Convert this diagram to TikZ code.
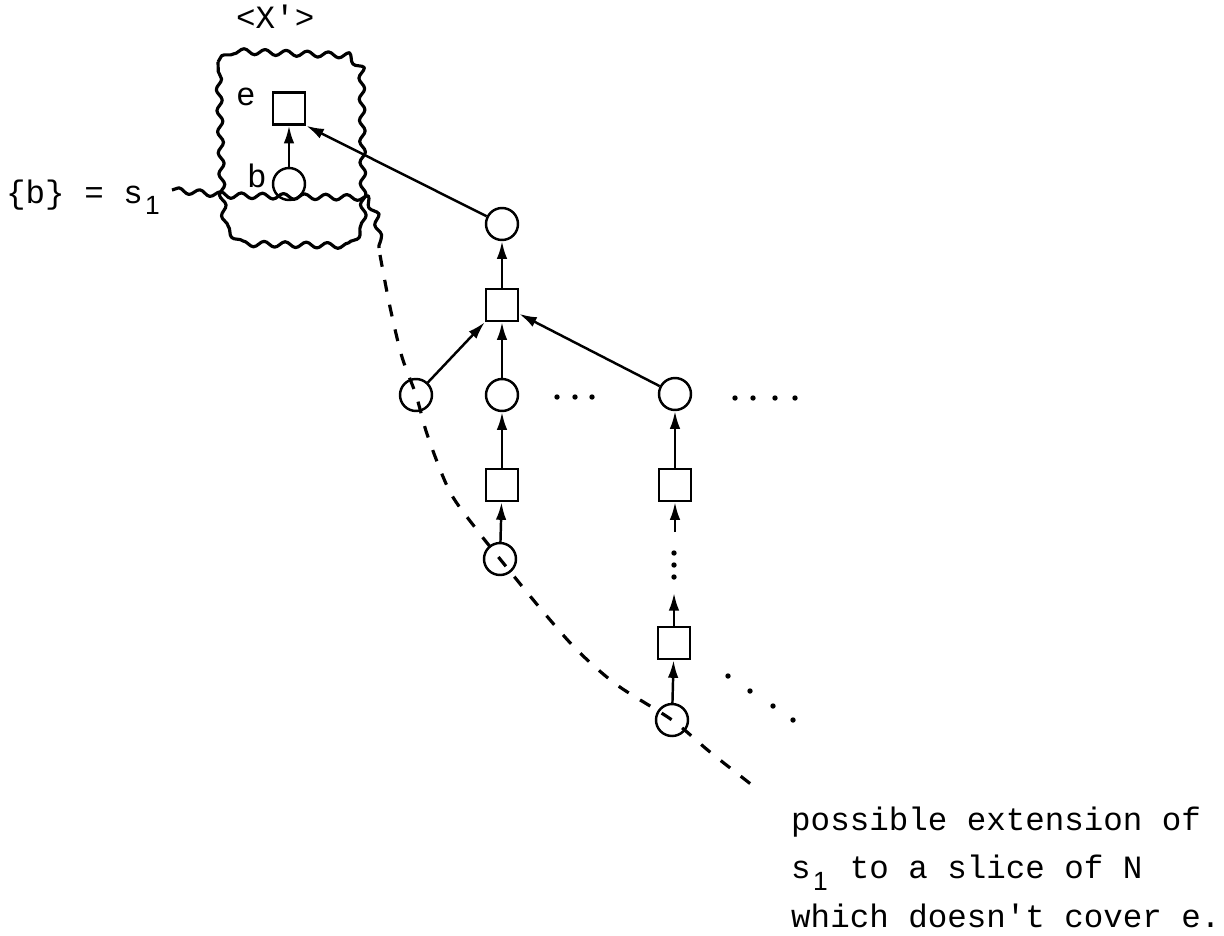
\documentclass[tikz,border=0pt]{standalone}
\usepackage{fontspec}
\setmonofont{Liberation Mono}
\newfontfamily\idxfont{Liberation Sans}
\usetikzlibrary{arrows.meta,decorations.pathmorphing}
% lowered index digit, one typewriter cell wide
\newcommand{\idx}[1]{\makebox[0.6em]{\raisebox{-3.4pt}{\idxfont\fontsize{7.5}{7.5}\selectfont #1}}}

\begin{document}
\begin{tikzpicture}[
  font=\ttfamily\fontsize{9.25}{13.75}\selectfont,
  line width=0.7pt,
  place/.style={circle,draw,minimum size=0.32cm,inner sep=0pt},
  trans/.style={rectangle,draw,minimum size=0.32cm,inner sep=0pt},
  arr/.style={-{Latex[length=5pt,width=3pt]}},
  lbl/.style={anchor=base west,inner sep=0pt},
  wiggle/.style={line width=0.9pt,line join=round,decorate,
                 decoration={snake,segment length=6pt,amplitude=0.8pt}},
  cut/.style={line width=0.9pt,dash pattern=on 3.4pt off 3.8pt}
]
\useasboundingbox (0,0) rectangle (12.24,-9.35);

% ---- Region <X'> and the slice s1 ----
\draw[wiggle] (2.18,-0.62) -- (2.30,-0.53) -- (3.38,-0.57) -- (3.53,-0.72)
  -- (3.55,-2.36) -- (3.45,-2.50) -- (2.38,-2.48) -- (2.26,-2.36) -- (2.22,-1.95) -- cycle;
\draw[wiggle] (1.72,-1.90) -- (2.25,-1.95) -- (3.55,-1.97) -- (3.65,-1.98)
  -- (3.75,-2.15) -- (3.79,-2.48);

% ---- Net elements ----
\node[trans] (e)  at (2.89,-1.085) {};
\node[place] (b)  at (2.89,-1.84)  {};
\node[place] (t)  at (5.02,-2.24)  {};
\node[trans] (m)  at (5.02,-3.05)  {};
\node[place] (c1) at (4.16,-3.95)  {};
\node[place] (c2) at (5.02,-3.95)  {};
\node[place] (c3) at (6.75,-3.94)  {};
\node[trans] (s2) at (5.02,-4.85)  {};
\node[trans] (s3) at (6.75,-4.85)  {};
\node[place] (c4) at (5.00,-5.59)  {};
\node[trans] (s4) at (6.74,-6.43)  {};
\node[place] (c5) at (6.72,-7.20)  {};
\coordinate (s3in)  at (6.75,-5.32);
\coordinate (s4out) at (6.74,-5.93);

% ---- Labels ----
\node[lbl] (lx) at (2.35,-0.28) {<X'>};
\node[lbl] (le) at (2.35,-1.05) {e};
\node[lbl] (lb) at (2.46,-1.87) {b};
\node[lbl] (ls) at (0.05,-2.03) {\{b\} = s\idx{1}};
\node[lbl,align=left] (note) at (7.90,-9.27)
  {possible extension of\\s\idx{1} to a slice of N\\which doesn't cover e.};

% ---- Arcs ----
\draw[arr] (b)  -- (e);
\draw[arr] (t)  -- (e.south east);
\draw[arr] (m)  -- (t);
\draw[arr] (c1) -- (m.south west);
\draw[arr] (c2) -- (m);
\draw[arr] (c3) -- (m);
\draw[arr] (s2) -- (c2);
\draw[arr] (c4) -- (s2);
\draw[arr] (s3) -- (c3);
\draw[arr] (s3in) -- (s3);
\draw[arr] (s4) -- (s4out);
\draw[arr] (c5) -- (s4);

% ---- Ellipses ----
\foreach \x in {5.57,5.75,5.92} \fill (\x,-3.97) circle (0.027);
\foreach \x in {7.35,7.53,7.75,7.95} \fill (\x,-3.98) circle (0.027);
\foreach \y in {-5.53,-5.65,-5.77} \fill (6.74,\y) circle (0.027);
\foreach \x/\y in {7.28/-6.76,7.50/-6.91,7.73/-7.06,7.93/-7.20} \fill (\x,\y) circle (0.027);

% ---- Possible extension of s1 ----
\draw[cut] plot[smooth,tension=0.5] coordinates {(3.80,-2.55) (3.90,-3.07) (4.02,-3.57)
  (c1.center) (4.28,-4.37) (4.50,-4.92) (4.77,-5.30) (c4.center) (5.40,-6.08)
  (5.77,-6.50) (6.17,-6.85) (6.72,-7.20) (7.10,-7.52) (7.52,-7.85)};
\end{tikzpicture}
\end{document}
